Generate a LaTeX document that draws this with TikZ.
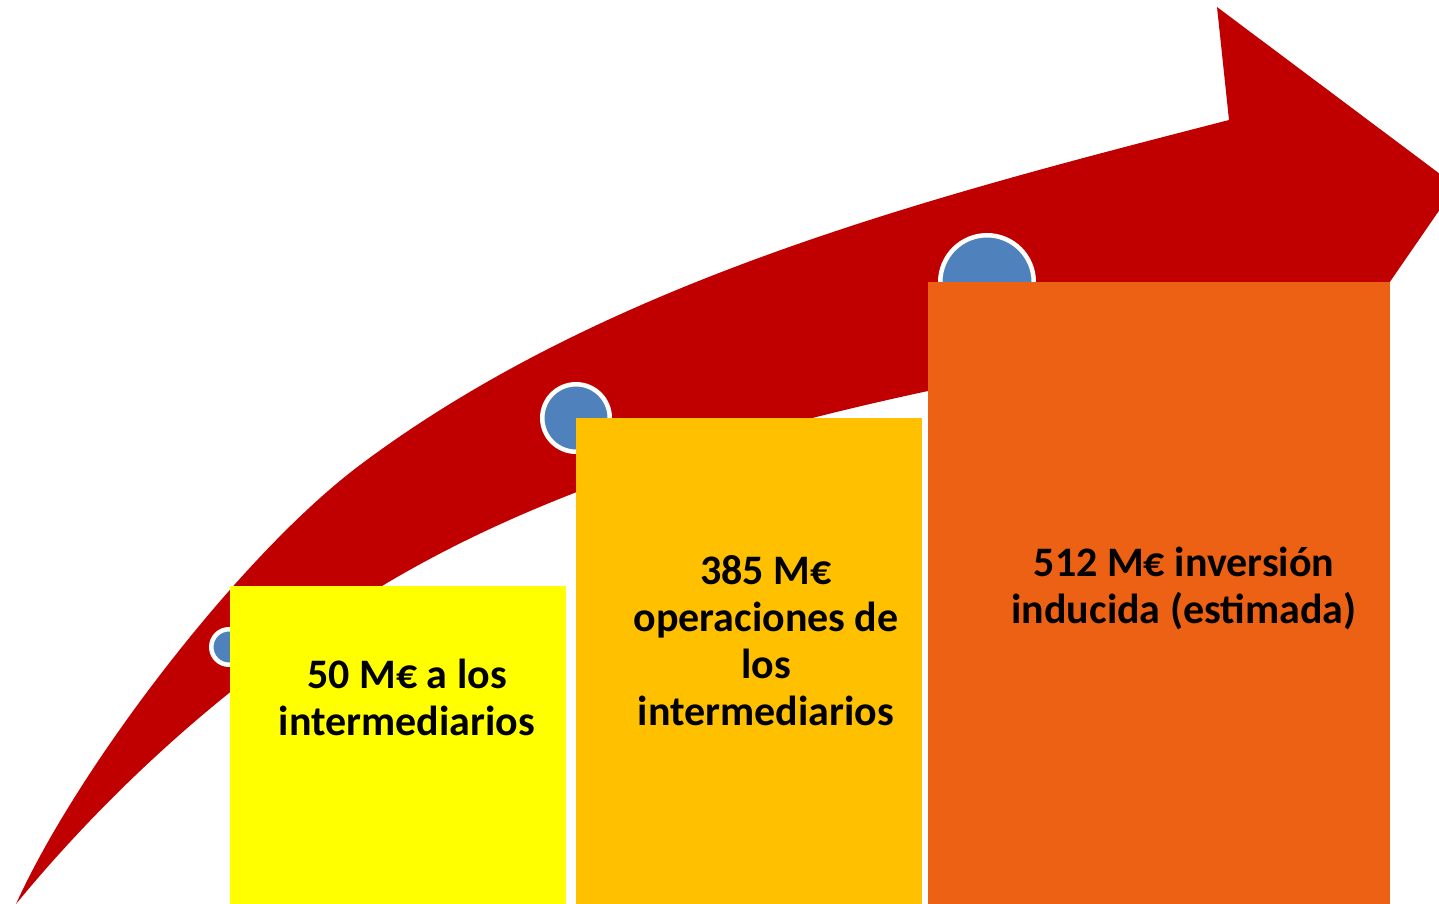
\documentclass[tikz,border=0pt]{standalone}
\usepackage{fontspec}
\setmainfont{Carlito}
\definecolor{arrowred}{RGB}{192,0,0}
\definecolor{dotblue}{RGB}{79,129,189}
\definecolor{stepyellow}{RGB}{255,255,0}
\definecolor{stepamber}{RGB}{255,192,0}
\definecolor{steporange}{RGB}{236,97,20}

\begin{document}
\begin{tikzpicture}[x=1pt, y=-1pt,
        stepbox/.style={rectangle, anchor=north west, inner sep=0pt, outer sep=0pt},
        milestone/.style={circle, fill=dotblue, draw=white, line width=4.5pt, inner sep=0pt},
        steptext/.style={align=center, font=\fontsize{42}{47}\selectfont\bfseries}]
        \useasboundingbox (0,0) rectangle (1439,904);
        \clip (0,0) rectangle (1439,904);
        % Curved arrow
        \coordinate (tail) at (16,904);
        \coordinate (bend) at (360,465);
        \coordinate (notch) at (1229,120);
        \fill[arrowred] (tail) .. controls (78,767) and (240,555) .. (bend)
            .. controls (608,279) and (938,195) .. (notch)
            -- (1217,7) -- (1456,186) -- (1265,463) -- (1246,330) -- (928,391)
            .. controls (742,431) and (545,488) .. (382,586)
            .. controls (245,668) and (118,780) .. (tail) -- cycle;
        % Milestones on the arrow
        \node[milestone, minimum size=35.5pt] (m1) at (229,647) {};
        \node[milestone, minimum size=67.5pt] (m2) at (576,418) {};
        \node[milestone, minimum size=93.5pt] (m3) at (987,282) {};
        % Steps
        \node[stepbox, fill=stepyellow, minimum width=336pt, minimum height=318pt] (s1) at (230,586) {};
        \node[stepbox, fill=stepamber, minimum width=346pt, minimum height=486pt] (s2) at (576,418) {};
        \node[stepbox, fill=steporange, minimum width=462pt, minimum height=622pt] (s3) at (928,282) {};
        \node[steptext] (t1) at (407,697) {50 M€ a los\\intermediarios};
        \node[steptext] (t2) at (766,641) {385 M€\\operaciones de\\los\\intermediarios};
        \node[steptext] (t3) at (1184,588) {512 M€ inversión\\inducida (estimada)};
    \end{tikzpicture}
\end{document}
